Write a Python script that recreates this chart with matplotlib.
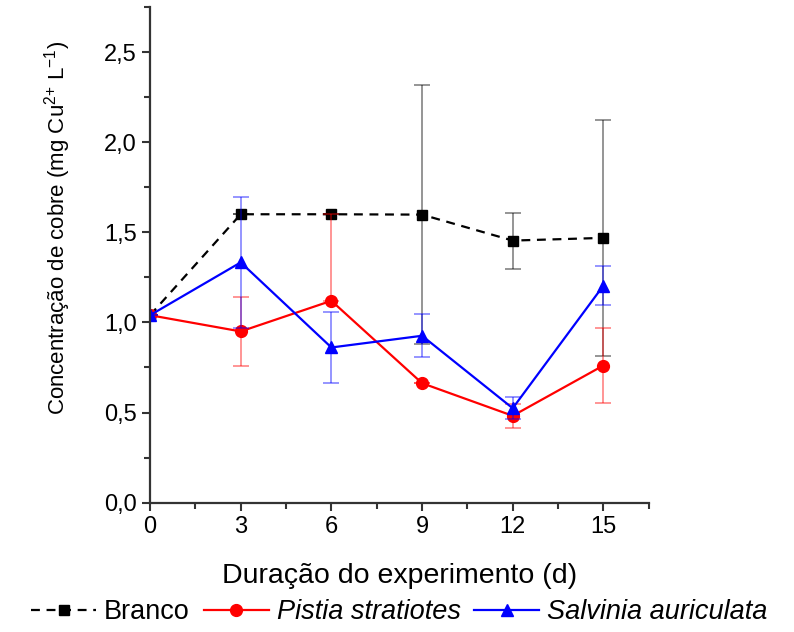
import numpy as np
import matplotlib.pyplot as plt

plt.rcParams['font.family'] = ['Liberation Sans', 'DejaVu Sans']
plt.rcParams['mathtext.default'] = 'regular'

dias = [0, 3, 6, 9, 12, 15]

# Branco (controle)
branco = [1.04, 1.60, 1.60, 1.598, 1.454, 1.469]
branco_err_inf = [0, 0, 0, 0.72, 0.155, 0.655]
branco_err_sup = [0, 0, 0, 0.72, 0.155, 0.655]

# Pistia stratiotes
pistia = [1.04, 0.95, 1.12, 0.663, 0.482, 0.761]
pistia_err_inf = [0, 0.19, 0, 0, 0.065, 0.21]
pistia_err_sup = [0, 0.19, 0.48, 0, 0.065, 0.21]

# Salvinia auriculata
salvinia = [1.04, 1.333, 0.861, 0.926, 0.524, 1.204]
salvinia_err_inf = [0, 0.364, 0.195, 0.12, 0.06, 0.11]
salvinia_err_sup = [0, 0.364, 0.195, 0.12, 0.06, 0.11]

fig = plt.figure(figsize=(7.94, 6.32), dpi=100)
ax = fig.add_axes([0.189, 0.2046, 0.628, 0.7844])

series = [
    (branco, branco_err_inf, branco_err_sup, 'black', 's', '--', 7, 'Branco'),
    (pistia, pistia_err_inf, pistia_err_sup, 'red', 'o', '-', 8.5, 'Pistia stratiotes'),
    (salvinia, salvinia_err_inf, salvinia_err_sup, 'blue', '^', '-', 9, 'Salvinia auriculata'),
]

handles = []
for y, e_inf, e_sup, cor, mk, ls, ms, nome in series:
    ax.errorbar(dias, y, yerr=[e_inf, e_sup], fmt='none', ecolor=cor,
                elinewidth=1.3, capsize=5.5, capthick=1.3, alpha=0.45)
    h, = ax.plot(dias, y, color=cor, marker=mk, linestyle=ls, linewidth=1.6,
                 markersize=ms, label=nome,
                 dashes=(4, 3) if ls == '--' else (None, None))
    handles.append(h)

ax.set_xlim(0, 16.5)
ax.set_ylim(0, 2.75)
ax.set_xticks([0, 3, 6, 9, 12, 15])
ax.set_xticks(np.arange(1.5, 16.6, 3), minor=True)
ax.set_yticks([0, 0.5, 1.0, 1.5, 2.0, 2.5])
ax.set_yticks(np.arange(0.25, 2.76, 0.5), minor=True)
ax.set_yticklabels(['0,0', '0,5', '1,0', '1,5', '2,0', '2,5'])

for s in ['top', 'right']:
    ax.spines[s].set_visible(False)
for s in ['left', 'bottom']:
    ax.spines[s].set_linewidth(1.6)
    ax.spines[s].set_color('#333333')

ax.tick_params(which='major', direction='out', length=6, width=1.5,
               labelsize=17, colors='#333333', labelcolor='black')
ax.tick_params(which='minor', direction='out', length=4, width=1.5,
               colors='#333333')

ax.set_xlabel('Duração do experimento (d)', fontsize=20.5, labelpad=18)
ax.set_ylabel('Concentração de cobre (mg Cu$^{2{+}}$ L$^{-1}$)', fontsize=16)
ax.yaxis.set_label_coords(-0.155, 0.555)

leg = fig.legend(handles=handles, loc='center', bbox_to_anchor=(0.503, 0.031),
                 ncol=3, frameon=False, fontsize=19.5, handlelength=2.4,
                 handletextpad=0.3, columnspacing=0.5)
for t in leg.get_texts()[1:]:
    t.set_fontstyle('italic')

fig.savefig('out.png', dpi=100)
